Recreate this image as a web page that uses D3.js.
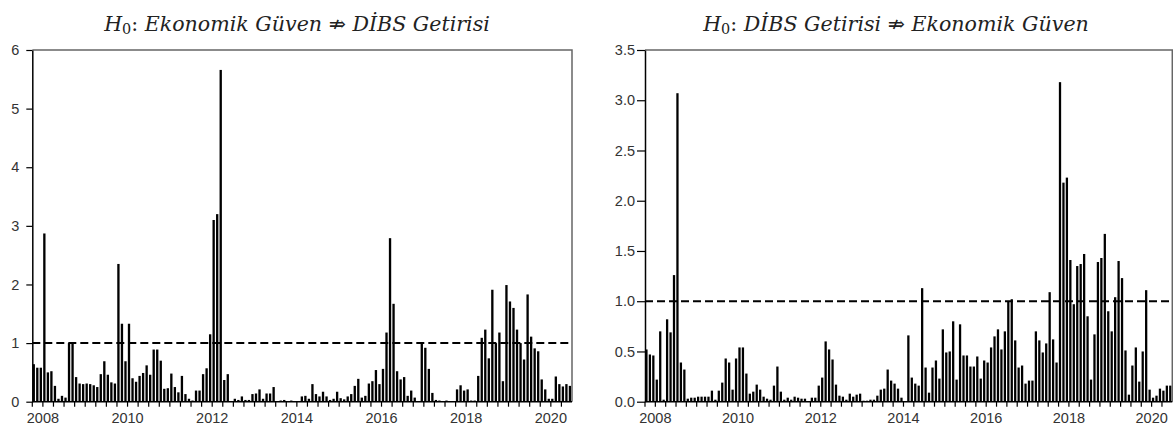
<!DOCTYPE html>
<html>
<head>
    <meta charset="UTF-8">
    <title>Causality test p-values</title>
    <script src="https://d3js.org/d3.v7.min.js"></script>
    <style>
        body { margin: 0; background: #fff; }
        .tick text { font-family: "Liberation Sans", Arial, sans-serif; font-size: 14.5px; fill: #333; }
        .title { font-family: "DejaVu Serif", serif; font-size: 22px; fill: #222; }
    </style>
</head>
<body>
    <div id="chart"></div>
    <script>
        // monthly observations, 2007M10 - 2020M06
        var startMonth = new Date(2007, 9, 1),
            endMonth = new Date(2020, 6, 1);

        // H0: Ekonomik Guven does not cause DIBS Getirisi
        var leftValues = [
            0.64, 0.58, 0.58, 2.87, 0.50, 0.52, 0.27, 0.05, 0.10, 0.07, 1.00, 1.00,
            0.42, 0.31, 0.30, 0.31, 0.30, 0.28, 0.25, 0.47, 0.69, 0.46, 0.33, 0.31,
            2.35, 1.33, 0.69, 1.33, 0.40, 0.34, 0.44, 0.49, 0.62, 0.46, 0.89, 0.89,
            0.70, 0.22, 0.23, 0.48, 0.25, 0.16, 0.44, 0.13, 0.05, 0.02, 0.19, 0.19,
            0.47, 0.57, 1.15, 3.10, 3.20, 5.66, 0.37, 0.47, 0.01, 0.05, 0.03, 0.09,
            0.03, 0.03, 0.13, 0.14, 0.21, 0.05, 0.14, 0.14, 0.25, 0.01, 0.02, 0.03,
            0.00, 0.02, 0.01, 0.01, 0.09, 0.10, 0.05, 0.30, 0.13, 0.09, 0.17, 0.09,
            0.03, 0.05, 0.17, 0.06, 0.04, 0.09, 0.13, 0.27, 0.39, 0.07, 0.10, 0.31,
            0.35, 0.54, 0.30, 0.56, 1.18, 2.79, 1.67, 0.52, 0.38, 0.42, 0.10, 0.19,
            0.07, 0.00, 1.00, 0.92, 0.56, 0.15, 0.03, 0.02, 0.00, 0.02, 0.00, 0.00,
            0.21, 0.28, 0.19, 0.21, 0.02, 0.02, 0.44, 1.09, 1.23, 0.74, 1.91, 1.00,
            1.18, 0.35, 1.99, 1.71, 1.60, 1.23, 1.00, 0.72, 1.83, 1.11, 0.91, 0.86,
            0.38, 0.21, 0.05, 0.05, 0.43, 0.30, 0.26, 0.30, 0.27
        ];

        // H0: DIBS Getirisi does not cause Ekonomik Guven
        var rightValues = [
            0.52, 0.47, 0.46, 0.22, 0.70, 0.02, 0.82, 0.69, 1.26, 3.07, 0.39, 0.32,
            0.03, 0.04, 0.04, 0.05, 0.05, 0.05, 0.05, 0.11, 0.02, 0.11, 0.19, 0.43,
            0.39, 0.12, 0.43, 0.54, 0.54, 0.28, 0.08, 0.10, 0.17, 0.12, 0.05, 0.03,
            0.02, 0.16, 0.35, 0.10, 0.02, 0.04, 0.02, 0.05, 0.04, 0.03, 0.03, 0.00,
            0.04, 0.04, 0.16, 0.24, 0.60, 0.52, 0.42, 0.17, 0.06, 0.05, 0.02, 0.08,
            0.05, 0.07, 0.08, 0.01, 0.01, 0.02, 0.02, 0.06, 0.12, 0.13, 0.32, 0.21,
            0.18, 0.13, 0.04, 0.00, 0.66, 0.24, 0.18, 0.16, 1.13, 0.34, 0.09, 0.34,
            0.41, 0.23, 0.72, 0.49, 0.50, 0.80, 0.22, 0.77, 0.46, 0.46, 0.35, 0.35,
            0.45, 0.23, 0.41, 0.39, 0.54, 0.65, 0.72, 0.52, 0.70, 1.00, 1.02, 0.61,
            0.34, 0.36, 0.18, 0.21, 0.21, 0.70, 0.61, 0.49, 0.58, 1.09, 0.62, 0.39,
            3.18, 2.18, 2.23, 1.41, 0.97, 1.35, 1.37, 1.47, 0.85, 0.22, 0.67, 1.39,
            1.43, 1.67, 0.90, 0.70, 1.04, 1.40, 1.23, 0.51, 0.07, 0.36, 0.54, 0.20,
            0.50, 1.11, 0.12, 0.04, 0.06, 0.13, 0.11, 0.16, 0.16
        ];

        var leftYTicks = [0, 1, 2, 3, 4, 5, 6];
        var rightYTicks = [0, 0.5, 1, 1.5, 2, 2.5, 3, 3.5];
        var yearLabels = ["2008", "2010", "2012", "2014", "2016", "2018", "2020"];
        var criticalValue = 1;

        var months = d3.timeMonth.range(startMonth, endMonth);

        var svg = d3.select("#chart")
            .append("svg")
            .attr("width", 1173)
            .attr("height", 430);

        svg.append("rect").attr("width", 1173).attr("height", 430).attr("fill", "#fff");

        function drawPanel(opts) {
            var width = opts.right - opts.left,
                height = 401.7 - 50;

            var g = svg.append("g")
                .attr("transform", "translate(" + opts.left + ",50)");

            var x = d3.scaleBand()
                .domain(months)
                .range([0, width]);

            var y = d3.scaleLinear()
                .domain([0, opts.yMax])
                .range([height, 0]);

            var bw = x.bandwidth();

            // bars
            g.selectAll(".bar")
                .data(opts.values)
                .enter().append("rect")
                .attr("class", "bar")
                .attr("x", function(d, i) { return x(months[i]) + 0.3; })
                .attr("width", bw * 0.66)
                .attr("y", function(d) { return y(d); })
                .attr("height", function(d) { return height - y(d); })
                .attr("fill", "#000");

            // frame: top and right in grey
            g.append("path")
                .attr("d", "M0,0H" + width + "V" + height)
                .attr("fill", "none")
                .attr("stroke", "#666")
                .attr("stroke-width", 1.5);

            // x axis: ticks each quarter, labels on even years
            var quarters = months.filter(function(m) { return m.getMonth() % 3 === 0; });
            var xAxis = d3.axisBottom(x)
                .tickValues(quarters)
                .tickSize(5)
                .tickSizeOuter(0)
                .tickPadding(6)
                .tickFormat(function(m) {
                    var yr = String(m.getFullYear());
                    return (m.getMonth() === 0 && yearLabels.indexOf(yr) >= 0) ? yr : "";
                });

            var gx = g.append("g")
                .attr("transform", "translate(" + (-bw / 2) + "," + height + ")")
                .call(xAxis);
            gx.select(".domain").remove();
            gx.selectAll(".tick line").attr("stroke", "#000").attr("stroke-width", 1.2);

            g.append("line")
                .attr("x1", 0).attr("x2", width)
                .attr("y1", height).attr("y2", height)
                .attr("stroke", "#000").attr("stroke-width", 1.5);

            // y axis
            var gy = g.append("g")
                .call(d3.axisLeft(y)
                    .tickValues(opts.yTicks)
                    .tickSize(opts.tickSize)
                    .tickSizeOuter(0)
                    .tickPadding(opts.tickPadding)
                    .tickFormat(opts.format));
            gy.select(".domain").attr("stroke", "#000").attr("stroke-width", 1.5);
            gy.selectAll(".tick line").attr("stroke", "#000").attr("stroke-width", 1.2);

            // critical value line
            g.append("line")
                .attr("x1", 0).attr("x2", width)
                .attr("y1", y(criticalValue)).attr("y2", y(criticalValue))
                .attr("stroke", "#000")
                .attr("stroke-width", 2)
                .attr("stroke-dasharray", "8,4");

            // title, scaled so its width matches the reference
            var t = svg.append("text")
                .attr("class", "title")
                .attr("x", opts.titleX)
                .attr("y", 31)
                .attr("text-anchor", "middle");
            t.append("tspan").attr("font-style", "italic").text("H");
            t.append("tspan").attr("font-size", "0.7em").attr("dy", "0.22em").text("0");
            t.append("tspan").attr("dy", "-0.154em").text(":");
            t.append("tspan").attr("font-style", "italic").text(" " + opts.title);

            var w = t.node().getBBox().width;
            t.style("font-size", (22 * 387 / w) + "px");
        }

        drawPanel({
            left: 32.3, right: 572,
            values: leftValues,
            yMax: 6, yTicks: leftYTicks,
            tickSize: 6, tickPadding: 7,
            format: d3.format("d"),
            titleX: 297,
            title: "Ekonomik Güven \u21CF DİBS Getirisi"
        });

        drawPanel({
            left: 645, right: 1172.3,
            values: rightValues,
            yMax: 3.5, yTicks: rightYTicks,
            tickSize: 8, tickPadding: 2,
            format: d3.format(".1f"),
            titleX: 896,
            title: "DİBS Getirisi \u21CF Ekonomik Güven"
        });
    </script>
</body>
</html>
